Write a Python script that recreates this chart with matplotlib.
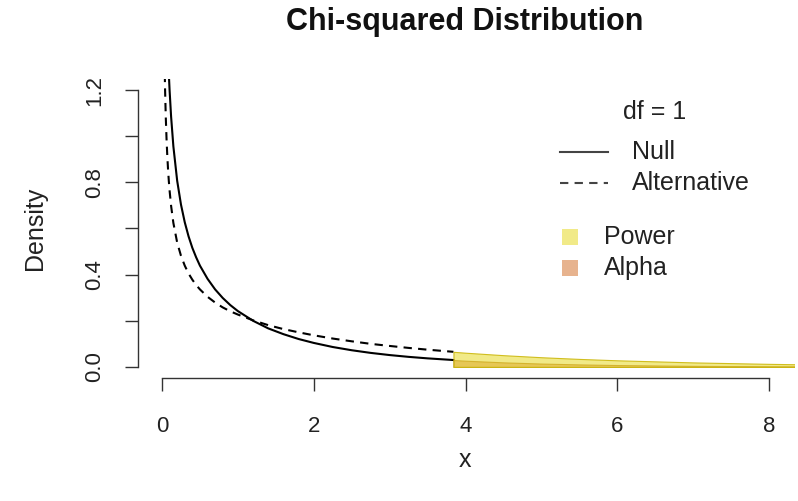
import numpy as np
import matplotlib.pyplot as plt
from matplotlib.lines import Line2D
from matplotlib.patches import Rectangle

plt.rcParams['font.family'] = ['Liberation Sans', 'DejaVu Sans']

# densities read at these x positions (df = 1)
x_vals = [0.03, 0.04, 0.05, 0.06, 0.07, 0.08, 0.09, 0.10, 0.12, 0.15,
          0.20, 0.25, 0.30, 0.35, 0.40, 0.45, 0.50, 0.60, 0.70, 0.80,
          0.90, 1.00, 1.20, 1.40, 1.60, 1.80, 2.00, 2.25, 2.50, 2.75,
          3.00, 3.25, 3.50, 3.84, 4.00, 4.50, 5.00, 5.50, 6.00, 7.00,
          8.00, 8.40]
null_density = [2.269, 1.955, 1.740, 1.581, 1.456, 1.355, 1.271, 1.200, 1.085, 0.956,
                0.807, 0.704, 0.627, 0.566, 0.516, 0.475, 0.439, 0.382, 0.336, 0.299,
                0.268, 0.242, 0.200, 0.167, 0.142, 0.121, 0.104, 0.0863, 0.0723, 0.0608,
                0.0514, 0.0436, 0.0371, 0.0299, 0.0270, 0.0198, 0.0146, 0.0109, 0.0081, 0.0046,
                0.0026, 0.0021]
alt_density = [1.397, 1.210, 1.082, 0.988, 0.914, 0.855, 0.806, 0.765, 0.698, 0.624,
               0.539, 0.482, 0.439, 0.405, 0.378, 0.355, 0.336, 0.304, 0.279, 0.258,
               0.241, 0.227, 0.202, 0.181, 0.164, 0.150, 0.137, 0.123, 0.111, 0.100,
               0.0909, 0.0824, 0.0747, 0.0655, 0.0616, 0.0509, 0.0420, 0.0347, 0.0287, 0.0196,
               0.0133, 0.0114]
crit_value = 3.84
df_label = 'df = 1'

x = np.array(x_vals)
y0 = np.array(null_density)
y1 = np.array(alt_density)
left = x <= crit_value
tail = x >= crit_value

W, H = 798, 501
fig = plt.figure(figsize=(W / 100, H / 100), dpi=100)
ax = fig.add_axes([137.7 / W, 1 - 378 / H, (793.5 - 137.7) / W, (378 - 79) / H])
ax.set_xlim(-0.32, 8.32)
ax.set_ylim(-0.048, 1.248)

ax.plot(x[left], y0[left], color='black', lw=1.5)
ax.plot(x[left], y1[left], color='black', lw=1.5, dashes=(4, 3))

power_col = (0.90, 0.85, 0.15, 0.55)
alpha_col = (0.82, 0.41, 0.12, 0.50)
ax.fill_between(x[tail], 0, y0[tail], facecolor=alpha_col,
                edgecolor=(0.70, 0.45, 0.10, 0.8), lw=0.8, zorder=3)
ax.fill_between(x[tail], 0, y1[tail], facecolor=power_col,
                edgecolor=(0.80, 0.72, 0.05, 0.9), lw=0.8, zorder=4)

# base-R style axes
for s in ['top', 'right']:
    ax.spines[s].set_visible(False)
ax.spines['left'].set_bounds(0, 1.2)
ax.spines['bottom'].set_bounds(0, 8)
for s in ['left', 'bottom']:
    ax.spines[s].set_color('#333333')
    ax.spines[s].set_linewidth(1.0)
ax.set_xticks([0, 2, 4, 6, 8])
ax.set_xticklabels(['0', '2', '4', '6', '8'])
ax.set_yticks([0, 0.2, 0.4, 0.6, 0.8, 1.0, 1.2])
ax.set_yticklabels(['0.0', '', '0.4', '', '0.8', '', '1.2'], rotation=90, va='center')
ax.tick_params(axis='both', length=9.4, width=1.0, color='#333333',
               labelsize=16, labelcolor='#222222')
ax.tick_params(axis='x', pad=18)
ax.tick_params(axis='y', pad=14)

def fx(px):
    return px / W

def fy(py):
    return 1 - py / H

fig.text(fx(465), fy(22), 'Chi-squared Distribution', fontsize=22,
         fontweight='bold', ha='center', va='center', color='#111111')
fig.text(fx(465), fy(460), 'x', fontsize=18, ha='center', va='center', color='#222222')
fig.text(fx(35), fy(228), 'Density', fontsize=18, rotation=90,
         ha='center', va='center', color='#222222')

# legend for the curves
fig.text(fx(655), fy(112), df_label, fontsize=18, ha='center', va='center', color='#222222')
fig.lines.append(Line2D([fx(560), fx(608)], [fy(152), fy(152)], transform=fig.transFigure,
                        color='#444444', lw=1.5))
fig.lines.append(Line2D([fx(560), fx(608)], [fy(183), fy(183)], transform=fig.transFigure,
                        color='#444444', lw=1.5, dashes=(4, 3)))
fig.text(fx(632), fy(152), 'Null', fontsize=18, ha='left', va='center', color='#222222')
fig.text(fx(632), fy(183), 'Alternative', fontsize=18, ha='left', va='center', color='#222222')

# legend for the shaded tails
for py, col, lab in [(237, power_col, 'Power'), (268, alpha_col, 'Alpha')]:
    fig.patches.append(Rectangle((fx(562), fy(py) - 8 / H), 16 / W, 16 / H,
                                 transform=fig.transFigure, facecolor=col, edgecolor='none'))
    fig.text(fx(604), fy(py), lab, fontsize=18, ha='left', va='center', color='#222222')

fig.savefig('out.png', dpi=100)
